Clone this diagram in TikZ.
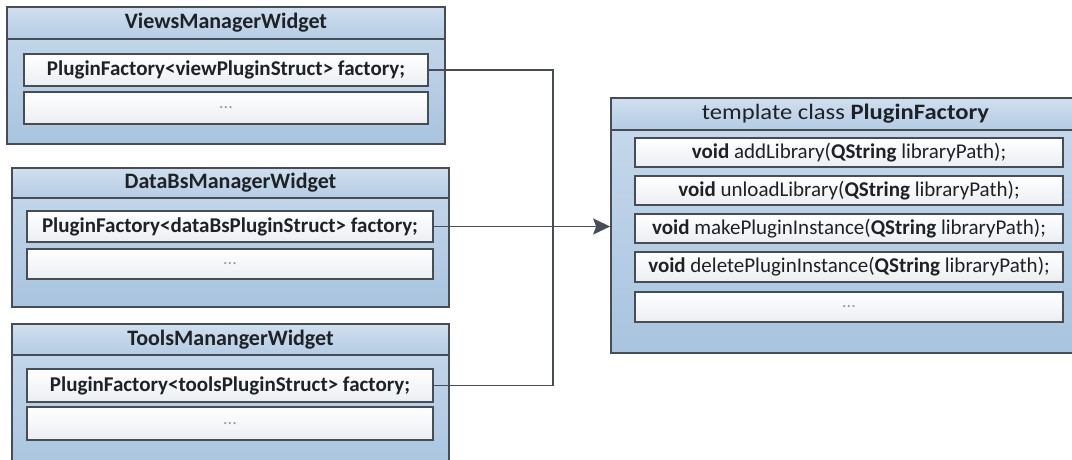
\documentclass[tikz,border=0pt]{standalone}
\usepackage{fontspec}
\usepackage{graphicx}
\setmainfont{Carlito}
\usetikzlibrary{arrows.meta}

\definecolor{edgegray}{HTML}{474D55}
\definecolor{bodytop}{HTML}{C9DAEC}
\definecolor{bodybot}{HTML}{A9C4DF}
\definecolor{bandtop}{HTML}{D0DFEE}
\definecolor{bandbot}{HTML}{B4CCE4}
\definecolor{memtop}{HTML}{FFFFFF}
\definecolor{membot}{HTML}{EBEEF2}
\definecolor{textdark}{HTML}{1E2226}
\definecolor{dotgray}{HTML}{9A9A9A}

\begin{document}
\begin{tikzpicture}[x=1pt,y=-1pt,
  outerbox/.style={draw=edgegray, line width=1.7pt, top color=bodytop, bottom color=bodybot,
    inner sep=0pt, rectangle},
  titlebar/.style={draw=edgegray, line width=1.7pt, top color=bandtop, bottom color=bandbot,
    inner sep=0pt, rectangle, minimum height=32pt, font=\fontsize{22}{24}\selectfont, text=textdark},
  member/.style={draw=edgegray, line width=1.7pt, top color=memtop, bottom color=membot,
    inner sep=0pt, rectangle, font=\fontsize{21}{23}\selectfont, text=textdark},
  dots/.style={member, font=\fontsize{18}{20}\selectfont, text=dotgray},
  link/.style={draw=edgegray, line width=1.7pt},
  every node/.append style={align=center}]
\useasboundingbox (0,0) rectangle (1072,459);
\clip (0,0) rectangle (1072,459);

% ViewsManagerWidget
\node[outerbox, minimum width=438pt, minimum height=137pt] (vw) at (226,75.5) {};
\node[titlebar, minimum width=438pt, anchor=north] (vwT) at (vw.north) {\bfseries ViewsManagerWidget};
\node[member, minimum width=404pt, minimum height=32pt] (vf) at (226,70) {\bfseries PluginFactory<viewPluginStruct> factory;};
\node[dots, minimum width=404pt, minimum height=32pt] (vd) at (226,108) {...};

% DataBsManagerWidget
\node[outerbox, minimum width=437pt, minimum height=139pt] (dw) at (230.5,237.5) {};
\node[titlebar, minimum width=437pt, minimum height=30pt, anchor=north] (dwT) at (dw.north) {\bfseries DataBsManagerWidget};
\node[member, minimum width=406pt, minimum height=31pt] (df) at (230,226.5) {\bfseries PluginFactory<dataBsPluginStruct> factory;};
\node[dots, minimum width=406pt, minimum height=30pt] (dd) at (230,264) {...};

% ToolsManangerWidget
\node[outerbox, minimum width=437pt, minimum height=150pt] (tw) at (230.5,399) {};
\node[titlebar, minimum width=437pt, minimum height=31pt, anchor=north] (twT) at (tw.north) {\bfseries ToolsManangerWidget};
\node[member, minimum width=406pt, minimum height=33pt] (tf) at (230,385.5) {\bfseries PluginFactory<toolsPluginStruct> factory;};
\node[dots, minimum width=406pt, minimum height=33pt] (td) at (230,423.5) {...};

% template class PluginFactory
\node[outerbox, minimum width=469pt, minimum height=255pt] (pf) at (845.5,225.5) {};
\node[titlebar, minimum width=469pt, anchor=north] (pfT) at (pf.north) {\scalebox{1.12}[1]{template class \textbf{PluginFactory}}};
\node[member, minimum width=428pt, minimum height=29pt] (m1) at (849,152.5) {\textbf{void} addLibrary(\textbf{QString} libraryPath);};
\node[member, minimum width=428pt, minimum height=29pt] (m2) at (849,190.5) {\textbf{void} unloadLibrary(\textbf{QString} libraryPath);};
\node[member, minimum width=428pt, minimum height=29pt] (m3) at (849,228.5) {\textbf{void} makePluginInstance(\textbf{QString} libraryPath);};
\node[member, minimum width=428pt, minimum height=30pt] (m4) at (849,267) {\textbf{void} deletePluginInstance(\textbf{QString} libraryPath);};
\node[dots, minimum width=428pt, minimum height=30pt] (m5) at (849,307) {...};

% connectors
\coordinate (bus) at (553,70);
\draw[link] (vf.east) -- (vf.east -| bus) |- (tf.east);
\draw[link, -{Stealth[length=17pt, width=16pt, inset=3pt]}] (df.east) -- (df.east -| pf.west);
\end{tikzpicture}
\end{document}
